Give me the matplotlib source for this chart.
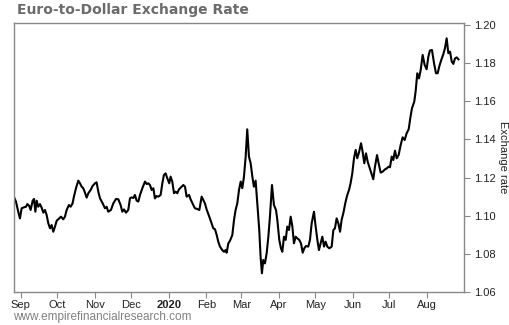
import numpy as np
import pandas as pd
import matplotlib
matplotlib.use("Agg")
import matplotlib.pyplot as plt

# days after 2019-09-01
start = pd.Timestamp("2019-09-01")
days = [-5.3, -3.9, -2.0, -0.6, 0.8, 2.7, 4.4, 5.5, 7.1, 8.2, 9.9, 11.0, 12.1, 13.2,
        14.5, 15.9, 17.3, 18.7, 20.0, 21.4, 22.8, 24.2, 25.5, 26.9, 28.3, 29.7, 31.8,
        33.2, 35.1, 36.5, 37.9, 39.8, 41.2, 42.8, 43.9, 45.6, 47.5, 48.9, 50.3, 51.6,
        53.0, 54.4, 55.8, 57.7, 59.3, 61.3, 62.6, 64.0, 65.4, 67.6, 69.5, 70.9, 72.2,
        74.4, 76.4, 78.6, 80.5, 82.4, 83.8, 85.2, 86.8, 88.7, 90.1, 91.5, 92.9, 94.2,
        95.6, 97.0, 98.4, 100.3, 102.5, 103.9, 105.2, 106.6, 108.0, 109.4, 110.7,
        112.1, 113.5, 115.4, 116.8, 118.1, 119.5, 120.9, 122.5, 123.6, 125.0, 126.4,
        127.8, 129.1, 130.5, 132.7, 134.1, 135.5, 136.8, 138.8, 140.1, 142.3, 143.7,
        145.6, 147.3, 149.2, 150.6, 151.9, 153.3, 155.5, 157.4, 158.8, 160.2, 161.6,
        162.9, 164.3, 166.2, 167.6, 169.0, 169.8, 171.2, 172.6, 174.5, 175.9, 177.2,
        178.6, 180.0, 181.4, 182.7, 184.1, 185.5, 186.8, 188.2, 189.6, 191.0, 192.3,
        193.7, 195.1, 196.7, 197.8, 198.9, 200.0, 201.4, 202.8, 204.2, 205.5, 207.2,
        208.8, 210.5, 211.6, 213.2, 214.6, 215.7, 217.1, 218.5, 219.8, 221.2, 222.6,
        224.0, 225.3, 226.7, 228.1, 229.7, 231.1, 232.5, 233.8, 235.2, 237.1, 238.5,
        239.9, 241.8, 243.2, 244.6, 245.9, 247.3, 248.7, 250.1, 251.4, 252.8, 254.5,
        256.4, 257.8, 259.1, 260.5, 261.9, 263.3, 264.6, 266.0, 267.9, 269.3, 270.7,
        272.0, 273.4, 274.8, 276.2, 277.5, 278.9, 280.6, 281.9, 283.3, 284.7, 286.1,
        287.4, 289.1, 290.7, 292.1, 293.8, 295.1, 296.8, 298.4, 300.4, 301.7, 303.4,
        304.5, 305.9, 307.2, 308.6, 310.0, 311.6, 313.3, 314.9, 316.6, 318.2, 319.9,
        321.2, 322.6, 324.5, 325.6, 327.0, 328.4, 329.8, 331.4, 333.1, 334.7, 336.1,
        337.4, 339.1, 340.8, 342.4, 343.8, 345.2, 346.8, 348.5, 349.8, 351.2, 352.6,
        354.0, 355.4, 356.7, 358.1, 359.5, 360.9]
rate = [1.1095, 1.1074, 1.1021, 1.0986, 1.1039, 1.1044, 1.1047, 1.1061, 1.1051, 1.1030,
        1.1079, 1.1088, 1.1021, 1.1079, 1.1047, 1.1061, 1.1042, 1.1016, 1.1030, 1.1004,
        1.0960, 1.0934, 1.0951, 1.0916, 1.0943, 1.0974, 1.0986, 1.0995, 1.0981, 1.0995,
        1.1030, 1.1056, 1.1047, 1.1065, 1.1100, 1.1144, 1.1184, 1.1170, 1.1152, 1.1144,
        1.1121, 1.1095, 1.1118, 1.1135, 1.1156, 1.1170, 1.1175, 1.1126, 1.1091, 1.1065,
        1.1039, 1.1047, 1.1021, 1.1030, 1.1065, 1.1088, 1.1086, 1.1056, 1.1021, 1.1033,
        1.1016, 1.1030, 1.1091, 1.1096, 1.1093, 1.1109, 1.1079, 1.1074, 1.1109, 1.1144,
        1.1179, 1.1166, 1.1170, 1.1161, 1.1135, 1.1144, 1.1091, 1.1103, 1.1100, 1.1109,
        1.1170, 1.1214, 1.1222, 1.1196, 1.1170, 1.1205, 1.1179, 1.1118, 1.1126, 1.1118,
        1.1138, 1.1152, 1.1161, 1.1152, 1.1100, 1.1109, 1.1086, 1.1056, 1.1039, 1.1035,
        1.1030, 1.1100, 1.1082, 1.1065, 1.1033, 1.0995, 1.0960, 1.0934, 1.0929, 1.0899,
        1.0864, 1.0838, 1.0820, 1.0811, 1.0820, 1.0806, 1.0855, 1.0869, 1.0899, 1.0978,
        1.1030, 1.1065, 1.1135, 1.1179, 1.1144, 1.1205, 1.1310, 1.1453, 1.1310, 1.1275,
        1.1205, 1.1152, 1.1184, 1.1065, 1.0925, 1.0785, 1.0698, 1.0768, 1.0750, 1.0803,
        1.0890, 1.0995, 1.1161, 1.1056, 1.1030, 1.0978, 1.0873, 1.0829, 1.0811, 1.0890,
        1.0873, 1.0943, 1.0925, 1.0995, 1.0943, 1.0855, 1.0890, 1.0881, 1.0873, 1.0855,
        1.0806, 1.0829, 1.0841, 1.0838, 1.0873, 1.0960, 1.1021, 1.0943, 1.0873, 1.0820,
        1.0855, 1.0890, 1.0838, 1.0864, 1.0838, 1.0829, 1.0838, 1.0925, 1.0934, 1.0986,
        1.0960, 1.0916, 1.0978, 1.1013, 1.1074, 1.1109, 1.1135, 1.1170, 1.1222, 1.1301,
        1.1345, 1.1301, 1.1331, 1.1380, 1.1336, 1.1275, 1.1327, 1.1283, 1.1257, 1.1222,
        1.1191, 1.1257, 1.1318, 1.1275, 1.1226, 1.1231, 1.1243, 1.1248, 1.1257, 1.1254,
        1.1310, 1.1292, 1.1341, 1.1301, 1.1318, 1.1371, 1.1411, 1.1397, 1.1432, 1.1453,
        1.1511, 1.1563, 1.1598, 1.1651, 1.1747, 1.1720, 1.1764, 1.1843, 1.1790, 1.1768,
        1.1834, 1.1866, 1.1869, 1.1799, 1.1747, 1.1747, 1.1785, 1.1817, 1.1848, 1.1878,
        1.1930, 1.1852, 1.1860, 1.1808, 1.1796, 1.1825, 1.1830, 1.1820]

month_ticks = ["2019-09-01", "2019-10-01", "2019-11-01", "2019-12-01", "2020-01-01",
               "2020-02-01", "2020-03-01", "2020-04-01", "2020-05-01", "2020-06-01",
               "2020-07-01", "2020-08-01"]
month_labels = ["Sep", "Oct", "Nov", "Dec", "2020", "Feb", "Mar", "Apr", "May", "Jun",
                "Jul", "Aug"]
y_ticks = [1.06, 1.08, 1.10, 1.12, 1.14, 1.16, 1.18, 1.20]

dates = start + pd.to_timedelta(days, unit="D")

plt.rcParams['font.family'] = ['Liberation Sans', 'DejaVu Sans']
fig = plt.figure(figsize=(5.1, 3.25), dpi=100)
ax = fig.add_axes([14 / 510, 33 / 325, 450 / 510, 269.3 / 325])

ax.plot(dates, rate, color="black", lw=1.5)

ax.set_xlim(start + pd.Timedelta(days=-5.5), start + pd.Timedelta(days=365.5))
ax.set_ylim(1.06, 1.2012)

ax.set_xticks(pd.to_datetime(month_ticks))
ax.set_xticklabels(month_labels)
ax.get_xticklabels()[4].set_fontweight("bold")
ax.set_yticks(y_ticks)
ax.set_yticklabels([f"{v:.2f}" for v in y_ticks])

ax.yaxis.tick_right()
ax.yaxis.set_label_position("right")
ax.set_ylabel("Exchange rate", rotation=-90, fontsize=8, labelpad=2, color="#222222",
              va="bottom")

for s in ax.spines.values():
    s.set_color("#888888")
    s.set_linewidth(1)
ax.tick_params(axis="both", length=4, color="#888888", labelsize=8, labelcolor="#222222")
ax.tick_params(axis="x", pad=2)
ax.tick_params(axis="y", pad=3)

fig.text(17 / 510, 1 - 10 / 325, "Euro-to-Dollar Exchange Rate", fontsize=10,
         fontweight="bold", color="#6b6b6b", family="DejaVu Sans", ha="left", va="center")
fig.text(13 / 510, 1 - 317 / 325, "www.empirefinancialresearch.com", fontsize=8.5,
         color="#808080", ha="left", va="center")

fig.savefig("out.png", dpi=100)
